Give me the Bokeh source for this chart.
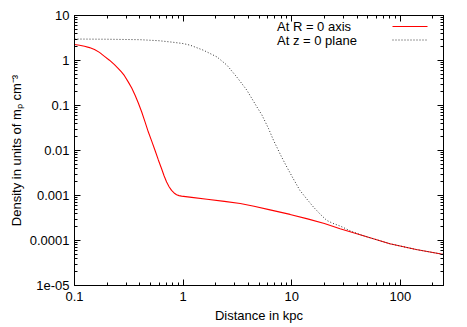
from bokeh.plotting import figure
from bokeh.models import FixedTicker, LogAxis, Label, PolyAnnotation, Range1d, CustomJSTickFormatter
from bokeh.embed import file_html
from bokeh.resources import INLINE

# ---- data ----
axis_r_x = [0.1, 0.1112, 0.1236, 0.1374, 0.1528, 0.1698, 0.1888, 0.2099, 0.2333, 0.2535,
            0.2704, 0.2884, 0.3133, 0.3365, 0.3614, 0.3877, 0.4159, 0.4461, 0.4786, 0.514,
            0.552, 0.5916, 0.634, 0.668, 0.705, 0.743, 0.783, 0.826, 0.871, 0.918,
            0.968, 1.2, 1.66, 2.4, 3.36, 4.5, 6.32, 9.66, 14.0, 20.0,
            27.9, 45.0, 80.2, 140.0, 231.0, 250.0]
axis_r_y = [2.26, 2.18, 2.07, 1.934, 1.75, 1.514, 1.239, 1.015, 0.809, 0.661,
            0.557, 0.46, 0.331, 0.245, 0.169, 0.1122, 0.0716, 0.0432, 0.0257, 0.0162,
            0.0100, 0.00617, 0.00394, 0.00275, 0.00199, 0.00157, 0.0013, 0.00114, 0.00104, 0.000993,
            0.00097, 0.00091, 0.000826, 0.00074, 0.000664, 0.000575, 0.00048, 0.00038, 0.000302, 0.000239,
            0.000182, 0.000129, 0.0000847, 0.000063, 0.0000507, 0.000049]

plane_z_x = [0.1, 0.2, 0.4, 0.6, 0.8, 1.0, 1.16, 1.54, 2.05, 2.53,
             3.12, 3.5, 3.86, 4.78, 5.31, 6.11, 6.79, 8.0, 9.02, 10.3,
             11.9, 13.7, 15.8, 18.2, 21.0, 24.0, 27.9, 35.0, 45.0, 80.2,
             140.0, 231.0, 250.0]
plane_z_y = [3.0, 2.97, 2.9, 2.75, 2.55, 2.38, 2.19, 1.69, 1.2, 0.79,
             0.43, 0.3, 0.22, 0.093, 0.062, 0.031, 0.017, 0.0075, 0.0043, 0.0024,
             0.0013, 0.00085, 0.00056, 0.00039, 0.00028, 0.00024, 0.00021, 0.000162, 0.000129, 0.0000847,
             0.000063, 0.0000507, 0.000049]

x_ticks = [0.1, 1, 10, 100]
x_tick_labels = ["0.1", "1", "10", "100"]
y_ticks = [1e-5, 1e-4, 1e-3, 1e-2, 0.1, 1, 10]
y_tick_labels = ["1e-05", "0.0001", "0.001", "0.01", "0.1", "1", "10"]
x_limits = (0.1, 250)
y_limits = (1e-5, 10)
legend_labels = ["At R = 0 axis", "At z = 0 plane"]
x_label = "Distance in kpc"
y_label = "Density in units of m\u209a cm\u207b\u00b3"

FONT = "Liberation Sans"
FS = "13px"

x_minor = [m * 10.0 ** e for e in range(-1, 3) for m in range(2, 10) if m * 10.0 ** e <= x_limits[1]]
y_minor = [m * 10.0 ** e for e in range(-5, 1) for m in range(2, 10)]

p = figure(width=467, height=327, x_axis_type="log", y_axis_type="log",
           x_range=Range1d(*x_limits), y_range=Range1d(*y_limits),
           output_backend="svg", toolbar_location=None,
           min_border_left=74, min_border_right=24, min_border_top=15, min_border_bottom=42)

p.xgrid.visible = False
p.ygrid.visible = False
p.outline_line_color = "black"
p.outline_line_width = 1
p.background_fill_color = "white"
p.border_fill_color = "white"


def style_axis(ax, ticker, labels=None, ticks=None):
    ax.ticker = ticker
    ax.axis_line_color = "black"
    ax.major_tick_in = 6
    ax.major_tick_out = 0
    ax.minor_tick_in = 3
    ax.minor_tick_out = 0
    ax.major_tick_line_color = "black"
    ax.minor_tick_line_color = "black"
    ax.major_label_text_font = FONT
    ax.major_label_text_font_size = FS
    ax.major_label_text_color = "black"
    ax.axis_label_text_font = FONT
    ax.axis_label_text_font_size = FS
    ax.axis_label_text_font_style = "normal"
    ax.axis_label_text_color = "black"
    if labels is not None:
        ax.major_label_overrides = {t: l for t, l in zip(ticks, labels)}


xa = p.xaxis[0]
ya = p.yaxis[0]
style_axis(xa, FixedTicker(ticks=x_ticks, minor_ticks=x_minor), x_tick_labels, x_ticks)
style_axis(ya, FixedTicker(ticks=y_ticks, minor_ticks=y_minor), y_tick_labels, y_ticks)
xa.axis_label = x_label
ya.axis_label = y_label
xa.major_label_standoff = 6
xa.axis_label_standoff = 4
ya.major_label_standoff = 5
ya.axis_label_standoff = 3

top = LogAxis()
right = LogAxis()
style_axis(top, FixedTicker(ticks=x_ticks, minor_ticks=x_minor))
style_axis(right, FixedTicker(ticks=y_ticks, minor_ticks=y_minor))
for ax in (top, right):
    ax.formatter = CustomJSTickFormatter(code="return '';")
    ax.major_label_text_font_size = "2px"
    ax.major_label_standoff = 0
p.add_layout(top, "above")
p.add_layout(right, "right")

p.line(axis_r_x, axis_r_y, line_color="#ff0000", line_width=1.1)
p.line(plane_z_x, plane_z_y, line_color="#333333", line_width=1, line_dash="1 2")

# legend (gnuplot style: text first, then sample)
rows_y = [259, 245.5]
styles = [dict(line_color="#ff0000", line_width=1.1, line_dash="solid"),
          dict(line_color="#333333", line_width=1, line_dash="1 2")]
for lab, yy, st in zip(legend_labels, rows_y, styles):
    p.add_layout(Label(x=202.5, y=yy, x_units="screen", y_units="screen", text=lab,
                       text_font=FONT, text_font_size=FS, text_baseline="middle",
                       text_align="left", text_color="black"))
    p.add_layout(PolyAnnotation(xs=[318, 353], ys=[yy, yy], xs_units="screen", ys_units="screen",
                                fill_alpha=0, line_alpha=1, **st))

open("out.html", "w").write(file_html(p, INLINE))
